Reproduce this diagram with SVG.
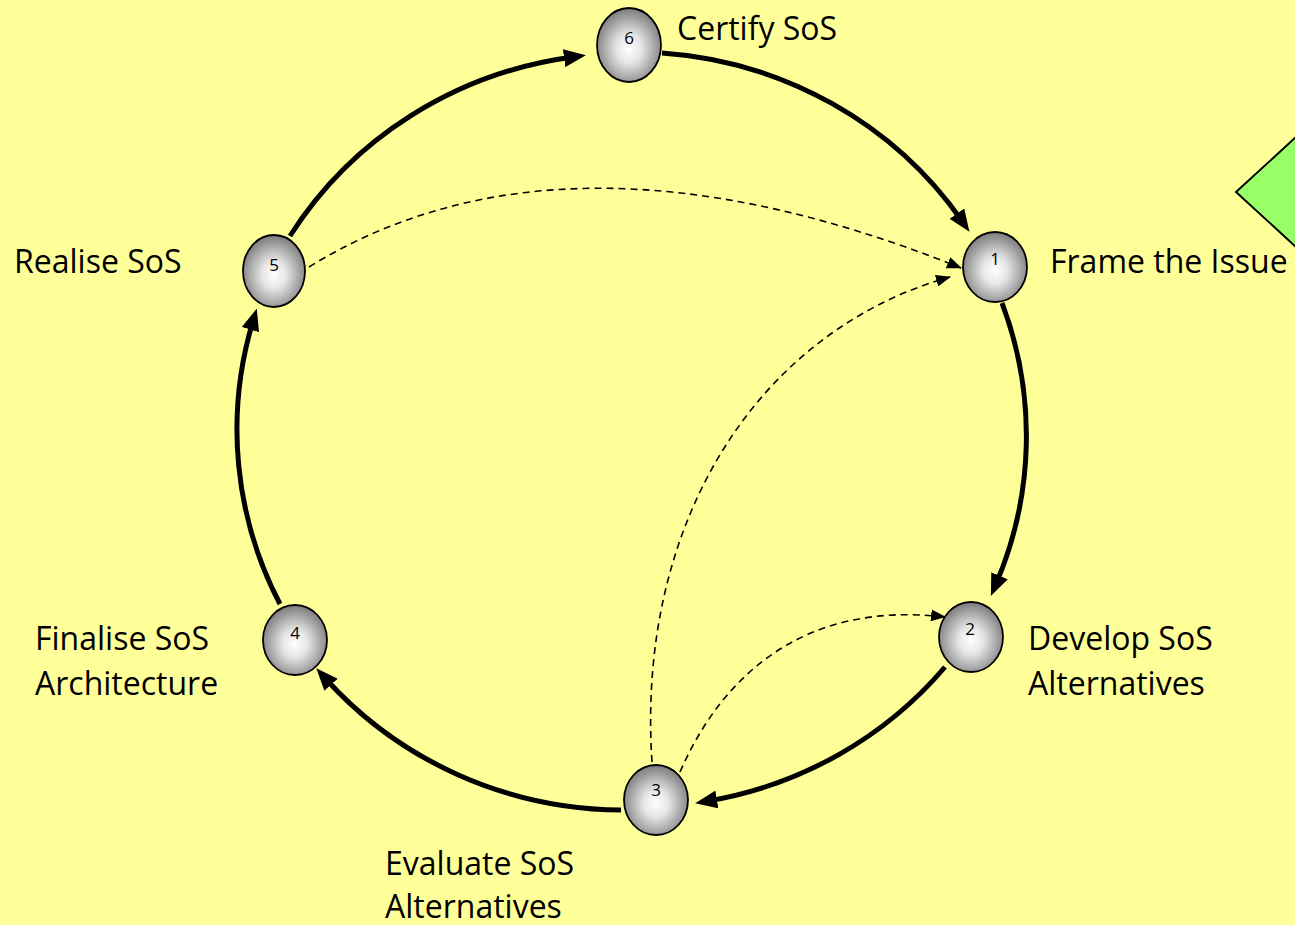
<svg xmlns="http://www.w3.org/2000/svg" width="1295" height="925" viewBox="0 0 1295 925">
  <style>
    .bg { fill: #ffff99; }
    .node ellipse { fill: url(#ball); stroke: #000; stroke-width: 1.8; }
    .num { font-family: "Open Sans", "DejaVu Sans", sans-serif; font-size: 17px; fill: #000; text-anchor: middle; }
    .label { font-family: "Open Sans", "Liberation Sans", sans-serif; font-size: 32px; fill: #000; }
    .cycle { fill: none; stroke: #000; stroke-width: 5; marker-end: url(#headBold); }
    .link { fill: none; stroke: #000; stroke-width: 1.6; stroke-dasharray: 7 5; marker-end: url(#headThin); }
  </style>
  <defs>
    <radialGradient id="ball" cx="50%" cy="55%" r="55%">
      <stop offset="0" stop-color="#ffffff"/>
      <stop offset="0.35" stop-color="#e6e6e6"/>
      <stop offset="1" stop-color="#7a7a7a"/>
    </radialGradient>
    <marker id="headBold" markerUnits="userSpaceOnUse" viewBox="0 -9 22 18" markerWidth="22" markerHeight="18" refX="9" refY="0" orient="auto">
      <path d="M0,-9 L22,0 L0,9 Z" fill="#000"/>
    </marker>
    <marker id="headThin" markerUnits="userSpaceOnUse" viewBox="0 -6 15 12" markerWidth="15" markerHeight="12" refX="14" refY="0" orient="auto">
      <path d="M0,-6 L15,0 L0,6 Z" fill="#000"/>
    </marker>
  </defs>

  <rect class="bg" x="0" y="0" width="1295" height="925"/>

  <!-- partial green diamond at the right edge -->
  <polygon points="1236,192 1320,115 1404,192 1320,269" fill="#99ff66" stroke="#000" stroke-width="2"/>

  <g id="connectors">
    <!-- main clockwise cycle -->
    <path class="cycle" d="M662,53 A396,385 0 0 1 962,221"/>
    <path class="cycle" d="M1002,303 A396,385 0 0 1 996,584"/>
    <path class="cycle" d="M945,667 A396,385 0 0 1 708,801"/>
    <path class="cycle" d="M621,810 A396,385 0 0 1 325,678"/>
    <path class="cycle" d="M280,604 A396,385 0 0 1 253,321"/>
    <path class="cycle" d="M290,236 A396,385 0 0 1 573,57"/>
    <!-- feedback links -->
    <path class="link" d="M309,267 Q565,109 961,268"/>
    <path class="link" d="M652,762 C636,520 760,330 950,277"/>
    <path class="link" d="M680,772 C720,680 800,600 945,617"/>
  </g>

  <g id="node-1" class="node">
    <ellipse cx="995" cy="267" rx="32" ry="35"/>
    <text class="num" x="995" y="265">1</text>
  </g>
  <g id="node-2" class="node">
    <ellipse cx="971" cy="637" rx="32" ry="35"/>
    <text class="num" x="970" y="635">2</text>
  </g>
  <g id="node-3" class="node">
    <ellipse cx="656" cy="800" rx="32" ry="35"/>
    <text class="num" x="656" y="796">3</text>
  </g>
  <g id="node-4" class="node">
    <ellipse cx="295" cy="640" rx="32" ry="35"/>
    <text class="num" x="295" y="639">4</text>
  </g>
  <g id="node-5" class="node">
    <ellipse cx="274" cy="271" rx="31" ry="36"/>
    <text class="num" x="274" y="271">5</text>
  </g>
  <g id="node-6" class="node">
    <ellipse cx="629" cy="45" rx="32" ry="37"/>
    <text class="num" x="629" y="44">6</text>
  </g>

  <g id="labels">
    <text class="label" x="677" y="40">Certify SoS</text>
    <text class="label" x="1050" y="273">Frame the Issue</text>
    <text class="label" x="14" y="273">Realise SoS</text>
    <text class="label" x="1028" y="650">Develop SoS</text>
    <text class="label" x="1028" y="695">Alternatives</text>
    <text class="label" x="35" y="650">Finalise SoS</text>
    <text class="label" x="35" y="695">Architecture</text>
    <text class="label" x="385" y="875">Evaluate SoS</text>
    <text class="label" x="385" y="918">Alternatives</text>
  </g>
</svg>
